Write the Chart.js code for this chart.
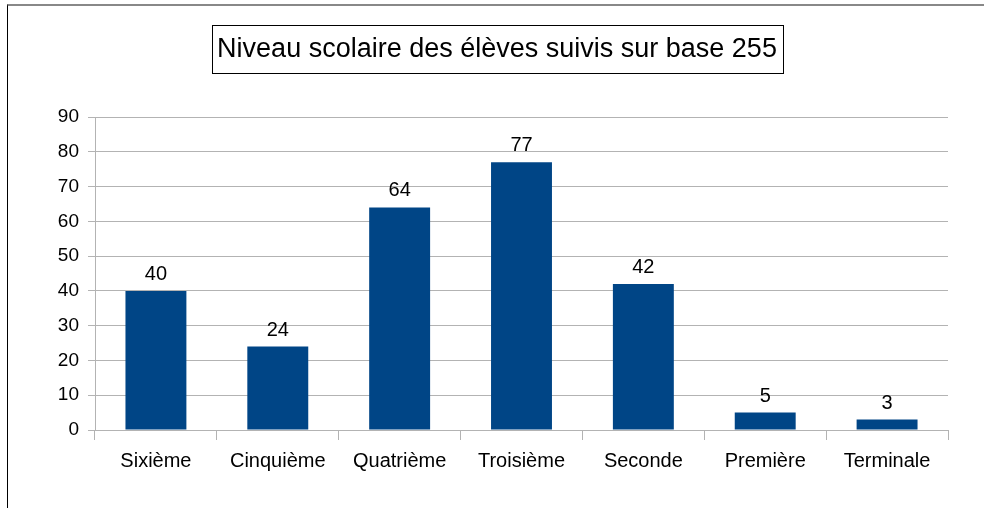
<!DOCTYPE html>
<html>
<head>
<meta charset="utf-8">
<script src="https://cdn.jsdelivr.net/npm/chart.js@4"></script>
<style>
  html, body { margin: 0; padding: 0; background: #fff; }
  #wrap { position: relative; width: 984px; height: 508px; }
  #frame { position: absolute; left: 7px; top: 4px; right: 0; bottom: 0;
           border-left: 1px solid #000; border-top: 2px solid #888; pointer-events: none; }
</style>
</head>
<body>
<div id="wrap">
  <canvas id="niveau_Chart" width="984" height="508"></canvas>
  <div id="frame"></div>
</div>
<script>
const niveaux = ['Sixième', 'Cinquième', 'Quatrième', 'Troisième', 'Seconde', 'Première', 'Terminale'];
const eleves = [40, 24, 64, 77, 42, 5, 3];
const titre = 'Niveau scolaire des élèves suivis sur base 255';

const police = '"Liberation Sans", Arial, sans-serif';

// titre dans un cadre
const titreBox = {
  id: 'titreBox',
  afterDraw(chart) {
    const ctx = chart.ctx;
    ctx.save();
    ctx.strokeStyle = '#000';
    ctx.lineWidth = 1;
    ctx.strokeRect(212.5, 25.5, 571, 48);
    ctx.fillStyle = '#000';
    ctx.font = '27px ' + police;
    ctx.textAlign = 'center';
    ctx.textBaseline = 'middle';
    ctx.fillText(titre, 497, 50);
    ctx.restore();
  }
};

// valeurs au-dessus des barres
const valeurs = {
  id: 'valeurs',
  afterDatasetsDraw(chart) {
    const ctx = chart.ctx;
    const meta = chart.getDatasetMeta(0);
    ctx.save();
    ctx.fillStyle = '#000';
    ctx.font = '20px ' + police;
    ctx.textAlign = 'center';
    ctx.textBaseline = 'alphabetic';
    meta.data.forEach(function(bar, i) {
      ctx.fillText(String(eleves[i]), bar.x, bar.y - 11);
    });
    ctx.restore();
  }
};

var niveau_Chart = new Chart('niveau_Chart', {
  type: 'bar',
  data: {
    labels: niveaux,
    datasets: [{
      data: eleves,
      backgroundColor: '#004586',
      borderWidth: 0,
      barPercentage: 1,
      categoryPercentage: 0.5
    }]
  },
  options: {
    responsive: false,
    animation: false,
    layout: { padding: { top: 117, right: 36, bottom: 0, left: 0 } },
    plugins: { legend: { display: false }, title: { display: false }, tooltip: { enabled: false } },
    scales: {
      x: {
        grid: { offset: true, drawOnChartArea: false, drawTicks: true, tickLength: 10, color: '#b3b3b3' },
        border: { color: '#b3b3b3' },
        ticks: { color: '#000', font: { family: police, size: 20 }, padding: 9 },
        afterFit(scale) { scale.height = 78; }
      },
      y: {
        min: 0,
        max: 90,
        ticks: { stepSize: 10, color: '#000', font: { family: police, size: 19 }, padding: 9 },
        grid: { color: '#b3b3b3', tickLength: 7 },
        border: { color: '#b3b3b3' },
        afterFit(scale) { scale.width = 95; }
      }
    }
  },
  plugins: [titreBox, valeurs]
});
</script>
</body>
</html>
